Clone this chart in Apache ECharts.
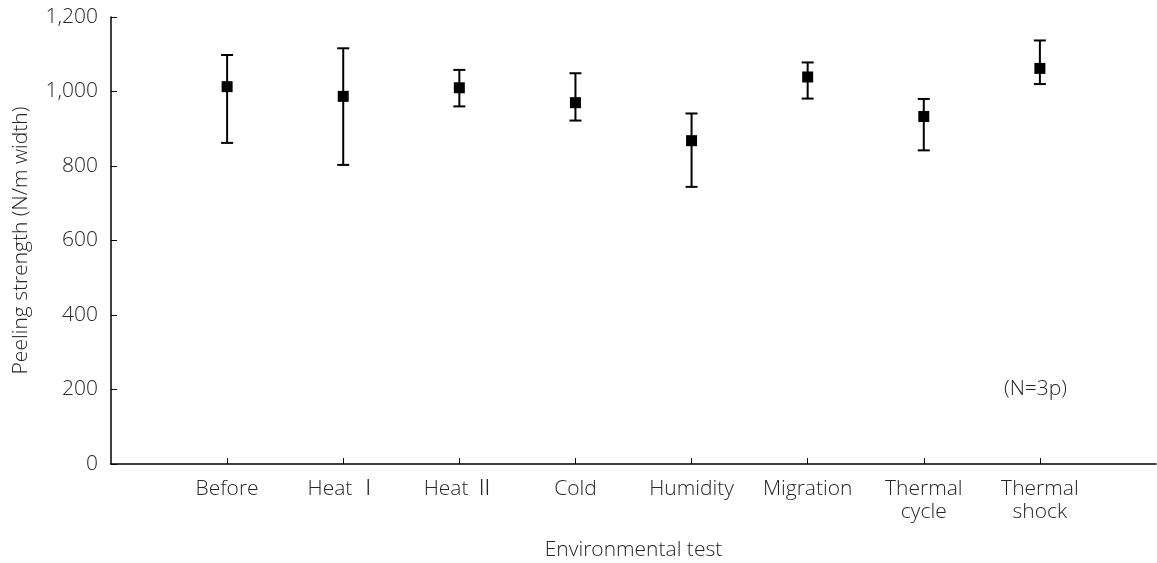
<!DOCTYPE html>
<html>
<head>
<meta charset="utf-8">
<script src="https://cdn.jsdelivr.net/npm/echarts@6/dist/echarts.min.js"></script>
<style>
  html, body { margin: 0; padding: 0; background: #fff; }
  #chart { width: 1157px; height: 563px; }
</style>
</head>
<body>
<div id="chart"></div>
<script>
// Environmental tests along the x axis (positions 1..8)
const categories = ['Before', 'Heat Ⅰ', 'Heat Ⅱ', 'Cold', 'Humidity', 'Migration', 'Thermal\ncycle', 'Thermal\nshock'];
// Mean peeling strength (N/m width)
const meanValues = [1013, 987, 1010, 970, 868, 1039, 933, 1062];
// Error bar ends
const lowValues  = [862, 803, 960, 922, 744, 981, 842, 1020];
const highValues = [1098, 1116, 1058, 1049, 941, 1078, 980, 1137];
// Y axis ticks
const yTicks = [0, 200, 400, 600, 800, 1000, 1200];

// Roman numerals fall through to the CJK face, which draws them with bars
const FONT = '"Open Sans", "Noto Sans CJK KR", sans-serif';
const TEXT = '#262626';
const FS = 21;
const FW = 300;

const positions = categories.map((_, i) => i + 1);
const meanData = meanValues.map((v, i) => [positions[i], v]);
const errData = lowValues.map((lo, i) => [positions[i], lo, highValues[i]]);

const chart = echarts.init(document.getElementById('chart'));

chart.setOption({
  animation: false,
  backgroundColor: '#fff',
  grid: { left: 111, right: 1, top: 17, bottom: 99, containLabel: false, outerBoundsMode: 'none' },
  xAxis: {
    type: 'value',
    min: 0,
    max: 9,
    interval: 1,
    name: 'Environmental test',
    nameLocation: 'middle',
    nameGap: 76,
    nameTextStyle: { fontFamily: FONT, fontSize: FS, fontWeight: FW, color: TEXT },
    splitLine: { show: false },
    axisLine: { lineStyle: { color: '#000', width: 1.5 } },
    axisTick: {
      show: true, inside: true, length: 6,
      customValues: positions,
      lineStyle: { color: '#000', width: 1 }
    },
    axisLabel: {
      customValues: positions,
      margin: 14,
      fontFamily: FONT, fontSize: FS, fontWeight: FW, color: TEXT, lineHeight: 23,
      formatter: (v) => categories[Math.round(v) - 1] || ''
    }
  },
  yAxis: {
    type: 'value',
    min: 0,
    max: 1200,
    interval: 200,
    name: 'Peeling strength (N/m width)',
    nameLocation: 'middle',
    nameGap: 79,
    nameRotate: 90,
    nameTextStyle: { fontFamily: FONT, fontSize: FS, fontWeight: FW, color: TEXT },
    splitLine: { show: false },
    axisLine: { show: true, lineStyle: { color: '#000', width: 1.5 } },
    axisTick: { show: true, inside: true, length: 6, lineStyle: { color: '#000', width: 1 } },
    axisLabel: {
      margin: 13,
      fontFamily: FONT, fontSize: FS, fontWeight: FW, color: TEXT,
      customValues: yTicks,
      formatter: (v) => v.toLocaleString('en-US')
    }
  },
  series: [
    {
      type: 'custom',
      name: 'range',
      data: errData,
      encode: { x: 0, y: [1, 2] },
      z: 2,
      renderItem: function (params, api) {
        const x = api.value(0);
        const lo = api.coord([x, api.value(1)]);
        const hi = api.coord([x, api.value(2)]);
        const cap = 6;
        const style = { stroke: '#000', lineWidth: 2 };
        return {
          type: 'group',
          children: [
            { type: 'line', shape: { x1: lo[0], y1: lo[1], x2: hi[0], y2: hi[1] }, style },
            { type: 'line', shape: { x1: hi[0] - cap, y1: hi[1], x2: hi[0] + cap, y2: hi[1] }, style },
            { type: 'line', shape: { x1: lo[0] - cap, y1: lo[1], x2: lo[0] + cap, y2: lo[1] }, style }
          ]
        };
      }
    },
    {
      type: 'scatter',
      name: 'mean',
      data: meanData,
      symbol: 'rect',
      symbolSize: 11,
      z: 3,
      itemStyle: { color: '#000', opacity: 1 }
    }
  ],
  graphic: [
    {
      type: 'text',
      left: 1004,
      top: 379,
      style: { text: '(N=3p)', font: FW + ' ' + FS + 'px ' + FONT, fill: TEXT }
    }
  ]
});
</script>
</body>
</html>
